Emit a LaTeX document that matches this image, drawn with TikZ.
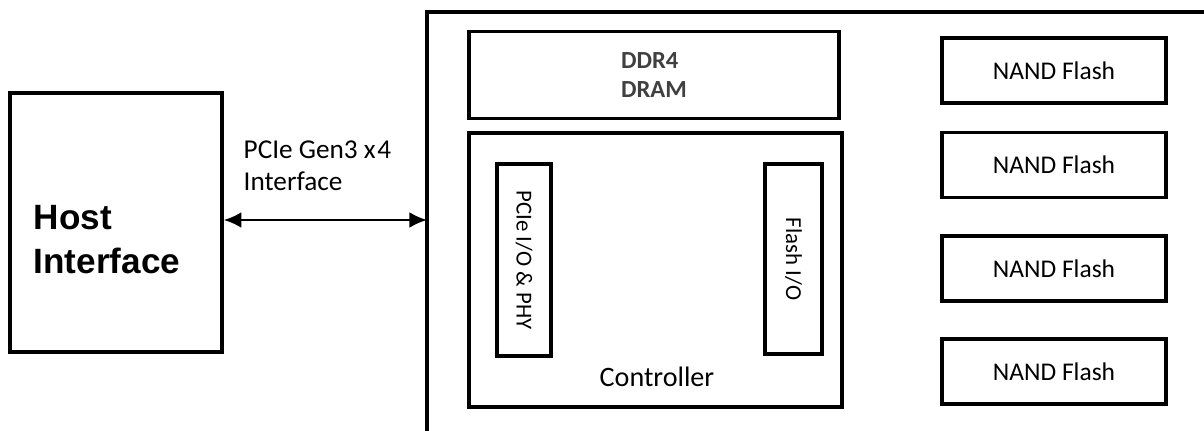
\documentclass[tikz,border=0pt]{standalone}
\usepackage{fontspec}
\setmainfont{Carlito}
\newfontfamily\arialfont{Liberation Sans}
\usetikzlibrary{arrows.meta}
\definecolor{dramgray}{HTML}{404040}
\begin{document}
\begin{tikzpicture}[
  box/.style={draw, line width=2pt, inner sep=0pt},
  nandbox/.style={box, minimum width=4.48cm, minimum height=1.3cm, font=\fontsize{14.5}{16}\selectfont},
  iobox/.style={box, rotate=-90, font=\fontsize{13}{15}\selectfont}
]
\useasboundingbox (0,0) rectangle (24.08,8.6);
\node[box, minimum width=4.24cm, minimum height=5.18cm] (host) at (2.32,4.15) {};
\node[anchor=west, align=left, font=\arialfont\bfseries\fontsize{20}{25}\selectfont] (hostlabel) at (0.55,3.8) {Host\\Interface};
% SSD outline, runs off the page
\draw[line width=2pt] (8.54,-0.2) -- (8.54,8.36) -- (24.3,8.36);
\coordinate (ssdin) at (8.54,4.2);
\draw[line width=1.3pt, {Latex[length=10pt,width=9pt]}-{Latex[length=10pt,width=9pt]}] (host.east |- ssdin) -- (ssdin);
\node[anchor=west, align=left, font=\fontsize{15.5}{18}\selectfont] (pcielabel) at (4.75,5.29) {PCIe Gen3 x\kern1pt4\\Interface};
\node[box, minimum width=7.4cm, minimum height=1.74cm, align=left, text=dramgray, font=\bfseries\fontsize{14}{16}\selectfont] (dram) at (13.08,7.1) {DDR4\\DRAM};
\node[box, minimum width=7.46cm, minimum height=5.48cm] (ctrl) at (13.11,3.2) {};
\node[font=\fontsize{16}{19}\selectfont] (ctrllabel) at (13.14,1.06) {Controller};
\node[iobox, minimum width=3.84cm, minimum height=1.08cm] (pcieio) at (10.48,3.4) {PCIe I/O \& PHY};
\node[iobox, minimum width=3.8cm, minimum height=1.14cm] (flashio) at (15.87,3.42) {Flash I/O};
\foreach \y [count=\i] in {7.19,5.3,3.23,1.17}
  \node[nandbox] (nand\i) at (21.08,\y) {NAND Flash};
\end{tikzpicture}
\end{document}
